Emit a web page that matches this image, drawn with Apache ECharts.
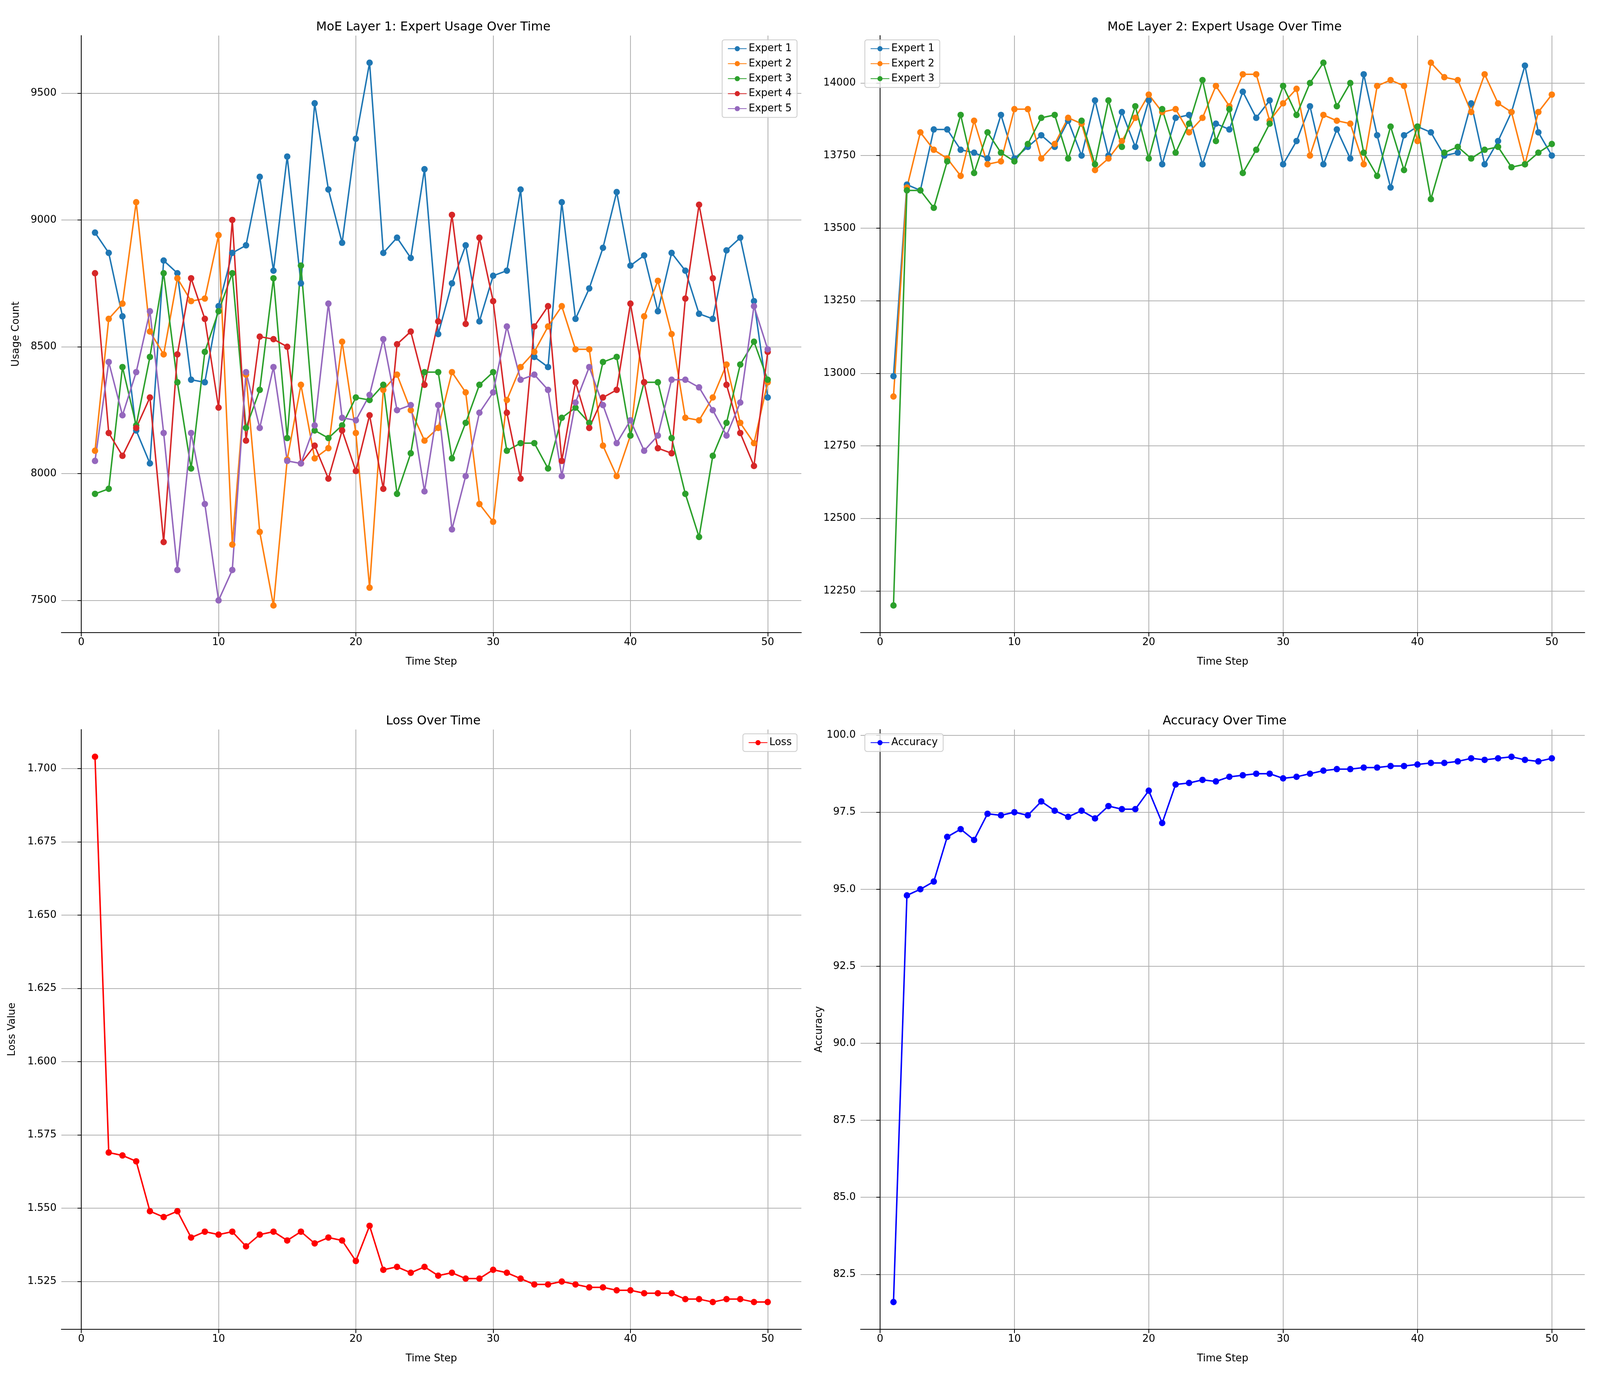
<!DOCTYPE html>
<html><head><meta charset="utf-8">
<script src="https://cdn.jsdelivr.net/npm/echarts@6/dist/echarts.min.js"></script>
<style>html,body{margin:0;background:#fff;overflow:hidden}#c{width:100vw;height:100vh}</style>
</head><body><div id="c"></div>
<script>
var steps = [];
for (var i = 1; i <= 50; i++) steps.push(i);

var l1e1 = [8950,8870,8620,8170,8040,8840,8790,8370,8360,8660,8870,8900,9170,8800,9250,8750,9460,9120,8910,9320,9620,8870,8930,8850,9200,8550,8750,8900,8600,8780,8800,9120,8460,8420,9070,8610,8730,8890,9110,8820,8860,8640,8870,8800,8630,8610,8880,8930,8680,8300];
var l1e2 = [8090,8610,8670,9070,8560,8470,8770,8680,8690,8940,7720,8390,7770,7480,8055,8350,8060,8100,8520,8160,7550,8330,8390,8250,8130,8180,8400,8320,7880,7810,8290,8420,8480,8580,8660,8490,8490,8110,7990,8150,8620,8760,8550,8220,8210,8300,8430,8200,8120,8360];
var l1e3 = [7920,7940,8420,8190,8460,8790,8360,8020,8480,8640,8790,8180,8330,8770,8140,8820,8170,8140,8190,8300,8290,8350,7920,8080,8400,8400,8060,8200,8350,8400,8090,8120,8120,8020,8220,8260,8200,8440,8460,8150,8360,8360,8140,7920,7750,8070,8200,8430,8520,8370];
var l1e4 = [8790,8160,8070,8180,8300,7730,8470,8770,8610,8260,9000,8130,8540,8530,8500,8040,8110,7980,8170,8010,8230,7940,8510,8560,8350,8600,9020,8590,8930,8680,8240,7980,8580,8660,8050,8360,8180,8300,8330,8670,8360,8100,8080,8690,9060,8770,8350,8160,8030,8480];
var l1e5 = [8050,8440,8230,8400,8640,8160,7620,8160,7880,7500,7620,8400,8180,8420,8050,8040,8190,8670,8220,8210,8310,8530,8250,8270,7930,8270,7780,7990,8240,8320,8580,8370,8390,8330,7990,8280,8420,8270,8120,8210,8090,8150,8370,8370,8340,8250,8150,8280,8660,8490];

var l2e1 = [12990,13650,13630,13840,13840,13770,13760,13740,13890,13740,13780,13820,13780,13870,13750,13940,13750,13900,13780,13940,13720,13880,13890,13720,13860,13840,13970,13880,13940,13720,13800,13920,13720,13840,13740,14030,13820,13640,13820,13850,13830,13750,13760,13930,13720,13800,13900,14060,13830,13750];
var l2e2 = [12920,13640,13830,13770,13740,13680,13870,13720,13730,13910,13910,13740,13790,13880,13860,13700,13740,13800,13880,13960,13900,13910,13830,13880,13990,13920,14030,14030,13870,13930,13980,13750,13890,13870,13860,13720,13990,14010,13990,13800,14070,14020,14010,13900,14030,13930,13900,13720,13900,13960];
var l2e3 = [12200,13630,13630,13570,13730,13890,13690,13830,13760,13730,13790,13880,13890,13740,13870,13720,13940,13780,13920,13740,13910,13760,13860,14010,13800,13910,13690,13770,13860,13990,13890,14000,14070,13920,14000,13760,13680,13850,13700,13850,13600,13760,13780,13740,13770,13780,13710,13720,13760,13790];

var loss = [1.704,1.569,1.568,1.566,1.549,1.547,1.549,1.540,1.542,1.541,1.542,1.537,1.541,1.542,1.539,1.542,1.538,1.540,1.539,1.532,1.544,1.529,1.530,1.528,1.530,1.527,1.528,1.526,1.526,1.529,1.528,1.526,1.524,1.524,1.525,1.524,1.523,1.523,1.522,1.522,1.521,1.521,1.521,1.519,1.519,1.518,1.519,1.519,1.518,1.518];
var accuracy = [81.6,94.8,95.0,95.25,96.7,96.95,96.6,97.45,97.4,97.5,97.4,97.85,97.55,97.35,97.55,97.3,97.7,97.6,97.6,98.2,97.15,98.4,98.45,98.55,98.5,98.65,98.7,98.75,98.75,98.6,98.65,98.75,98.85,98.9,98.9,98.95,98.95,99.0,99.0,99.05,99.1,99.1,99.15,99.25,99.2,99.25,99.3,99.2,99.15,99.25];

var xTicks = [0,10,20,30,40,50];
var l1Ticks = [7500,8000,8500,9000,9500];
var l2Ticks = [12250,12500,12750,13000,13250,13500,13750,14000];
var lossTicks = [1.525,1.55,1.575,1.6,1.625,1.65,1.675,1.7];
var accTicks = [82.5,85,87.5,90,92.5,95,97.5,100];

var colors = ['#1f77b4','#ff7f0e','#2ca02c','#d62728','#9467bd'];
var FONT = 'DejaVu Sans';

// layout is measured on a 5970x3565 page and scaled to the real window
var W = window.innerWidth, H = window.innerHeight;
var sx = W / 5970, sy = H / 3565, s = Math.min(sx, sy);
function g(l, t, w, h){ return {left:l*sx, top:t*sy, width:w*sx, height:h*sy}; }
var grids = [
  g(229, 91, 2761, 1528),
  g(3211, 91, 2702, 1528),
  g(229, 1867, 2761, 1535),
  g(3211, 1867, 2702, 1535)
];

function pad(arrs){
  var lo = Infinity, hi = -Infinity;
  arrs.forEach(function(a){ a.forEach(function(v){ if(v<lo)lo=v; if(v>hi)hi=v; }); });
  var m = (hi-lo)*0.05;
  return [lo-m, hi+m];
}

function xAxis(i){
  return {type:'value', gridIndex:i, min:-1.45, max:52.45,
    name:'Time Step', nameLocation:'middle', nameGap:90*s,
    nameTextStyle:{fontFamily:FONT, fontSize:38*s, color:'#000'},
    axisLine:{onZero:false, lineStyle:{color:'#000', width:3*s}},
    axisTick:{customValues:xTicks, length:14*s, lineStyle:{color:'#000', width:3*s}},
    axisLabel:{customValues:xTicks, fontFamily:FONT, fontSize:38*s, color:'#000', margin:18*s},
    splitLine:{show:true, lineStyle:{color:'#b0b0b0', width:3*s}}};
}
function yAxis(i, rng, ticks, name, dec){
  return {type:'value', gridIndex:i, min:rng[0], max:rng[1],
    name:name, nameLocation:'middle', nameGap:(dec==3 ? 165 : (dec==1 ? 135 : 150))*s,
    nameTextStyle:{fontFamily:FONT, fontSize:38*s, color:'#000'},
    axisLine:{show:true, lineStyle:{color:'#000', width:3*s}},
    axisTick:{show:true, customValues:ticks, length:14*s, lineStyle:{color:'#000', width:3*s}},
    axisLabel:{customValues:ticks, fontFamily:FONT, fontSize:38*s, color:'#000', margin:18*s,
      formatter:function(v){ return v.toFixed(dec); }},
    splitLine:{show:true, lineStyle:{color:'#b0b0b0', width:3*s}}};
}
function ser(name, data, i, color){
  return {type:'line', name:name, xAxisIndex:i, yAxisIndex:i,
    data:steps.map(function(st,k){ return [st, data[k]]; }),
    symbol:'circle', symbolSize:24*s, color:color,
    lineStyle:{width:5.5*s, color:color}, itemStyle:{color:color}, animation:false};
}
function legend(names, i, pos){
  var o = {data:names, orient:'vertical', itemWidth:70*s, itemHeight:24*s, itemGap:18*s,
    textStyle:{fontFamily:FONT, fontSize:38*s, color:'#000'},
    backgroundColor:'rgba(255,255,255,0.8)', borderColor:'#ccc', borderWidth:3*s, borderRadius:8*s,
    padding:[14*s,20*s], top: grids[i].top + 16*s};
  if (pos == 'right') o.right = W - grids[i].left - grids[i].width + 16*s;
  else o.left = grids[i].left + 16*s;
  return o;
}

var l1Series = [l1e1,l1e2,l1e3,l1e4,l1e5];
var l2Series = [l2e1,l2e2,l2e3];
var series = [];
l1Series.forEach(function(d,i){ series.push(ser('Expert '+(i+1), d, 0, colors[i])); });
l2Series.forEach(function(d,i){ series.push(ser('Expert '+(i+1), d, 1, colors[i])); });
series.push(ser('Loss', loss, 2, '#ff0000'));
series.push(ser('Accuracy', accuracy, 3, '#0000ff'));

var titles = ['MoE Layer 1: Expert Usage Over Time','MoE Layer 2: Expert Usage Over Time','Loss Over Time','Accuracy Over Time'];

var chart = echarts.init(document.getElementById('c'), null, {width:W, height:H});
chart.setOption({
  backgroundColor:'#fff',
  animation:false,
  title: titles.map(function(t,i){ return {text:t, left:grids[i].left+grids[i].width/2, textAlign:'center',
    top:grids[i].top-62*s, textStyle:{fontFamily:FONT, fontSize:46*s, fontWeight:'normal', color:'#000'}}; }),
  grid: grids,
  legend: [
    legend(['Expert 1','Expert 2','Expert 3','Expert 4','Expert 5'], 0, 'right'),
    legend(['Expert 1','Expert 2','Expert 3'], 1, 'left'),
    legend(['Loss'], 2, 'right'),
    legend(['Accuracy'], 3, 'left')
  ],
  xAxis: [xAxis(0), xAxis(1), xAxis(2), xAxis(3)],
  yAxis: [
    yAxis(0, pad(l1Series), l1Ticks, 'Usage Count', 0),
    yAxis(1, pad(l2Series), l2Ticks, '', 0),
    yAxis(2, pad([loss]), lossTicks, 'Loss Value', 3),
    yAxis(3, pad([accuracy]), accTicks, 'Accuracy', 1)
  ],
  series: series
});
</script>
</body></html>
